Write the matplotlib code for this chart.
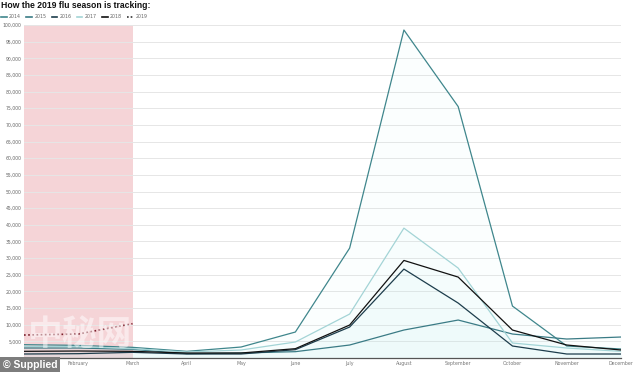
import numpy as np
import matplotlib
matplotlib.use("Agg")
import matplotlib.pyplot as plt
from matplotlib.lines import Line2D

# dati (casi mensili)
mesi = ["January", "February", "March", "April", "May", "June", "July",
        "August", "September", "October", "November", "December"]
anni = ["2014", "2015", "2016", "2017", "2018", "2019"]

casi_2014 = [4000, 3800, 3200, 2000, 3300, 7800, 33000, 98500, 75500, 15600, 3600, 2700]
casi_2015 = [3000, 3000, 2600, 1300, 1500, 1900, 3900, 8400, 11400, 7200, 5700, 6300]
casi_2016 = [1200, 1300, 1700, 1200, 1200, 2500, 9300, 26700, 16500, 3600, 1200, 1200]
casi_2017 = [3500, 3400, 2800, 1800, 2400, 4800, 13200, 39000, 27000, 4500, 3000, 2000]
casi_2018 = [2000, 2100, 2000, 1500, 1500, 2800, 9900, 29300, 24300, 8400, 3900, 2400]
casi_2019 = [6900, 7200, 10300]

colori = ["#3f868c", "#3a7b85", "#1d3d4c", "#a3d4d6", "#111111", "#7a1f2b"]
serie = [casi_2014, casi_2015, casi_2016, casi_2017, casi_2018]

fig = plt.figure(figsize=(6.34, 3.72), dpi=100)
ax = fig.add_axes([24 / 634, 1 - 358 / 372, (621 - 24) / 634, (358 - 25) / 372])

x = np.arange(len(mesi))
# zona rosa gennaio-marzo
ax.axvspan(0, 2, color="#f5d4d7", zorder=0, lw=0)

for s, c in zip(serie, colori[:5]):
    # leggerissimo riempimento azzurro sotto le linee
    ax.fill_between(x, s, 0, color="#bdeef4", alpha=0.05, lw=0, zorder=1)
    ax.plot(x, s, color=c, lw=0.9, zorder=3)

ax.plot(x[:len(casi_2019)], casi_2019, color=colori[5], lw=1.2, ls=(0, (1, 1.5)), zorder=4)

ax.set_xlim(0, 11)
ax.set_ylim(0, 100000)
ax.set_yticks(np.arange(5000, 100001, 5000))
ax.set_yticklabels([f"{v:,}" for v in range(5000, 100001, 5000)], fontsize=3.3, color="#666666")
ax.set_xticks(x)
ax.set_xticklabels(mesi, fontsize=3.4, color="#777777")
ax.tick_params(length=0, pad=2)
ax.grid(axis="y", color="#e6e6e6", lw=0.7, zorder=0)
ax.set_axisbelow(True)
for sp in ["top", "right", "left"]:
    ax.spines[sp].set_visible(False)
ax.spines["bottom"].set_color("#555555")
ax.spines["bottom"].set_linewidth(0.9)

fig.text(0.002, 0.984, "How the 2019 flu season is tracking:", fontsize=6.2,
         fontweight="bold", family="Liberation Sans", va="center", ha="left", color="#111111")

maniglie = []
for i, (a, c) in enumerate(zip(anni, colori)):
    if i == 5:
        maniglie.append(Line2D([], [], color="#333333", lw=1.2, ls=(0, (1, 1.2)), label=a))
    else:
        maniglie.append(Line2D([], [], color=c, lw=1.2, label=a))
fig.legend(handles=maniglie, loc="center left", bbox_to_anchor=(-0.005, 1 - 17 / 372), ncol=6,
           frameon=False, fontsize=3.4, handlelength=1.2, handletextpad=0.5, columnspacing=1.1,
           labelcolor="#666666")

# filigrane
fig.text(80 / 634, 1 - 334 / 372, "中秘网", fontsize=25, family=["Noto Sans CJK SC", "DejaVu Sans"],
         color="white", alpha=0.5, ha="center", va="center", fontweight="bold")
fig.text(0.004, 0.02, "© Supplied", fontsize=7.5, fontweight="bold", color="white",
         family="Liberation Sans", ha="left", va="center", zorder=10,
         bbox=dict(boxstyle="square,pad=0.25", fc="#7d7d7d", ec="none"))

fig.savefig("out.png", dpi=100)
